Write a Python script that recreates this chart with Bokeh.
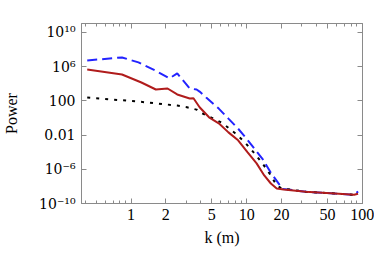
from bokeh.plotting import figure
from bokeh.models import Range1d, FixedTicker, LogAxis, CustomLabelingPolicy
from bokeh.embed import file_html
from bokeh.resources import INLINE

# ---- data (k in m, log10 of power) ----
blue_k = [0.418, 0.836, 1.16, 1.61, 2.15, 2.51, 3.22, 3.69, 3.92, 4.47, 5.74, 6.96, 8.44,
          10.0, 11.7, 13.7, 16.2, 19.0, 20.1, 32.5, 62.7, 85.0, 92.0]
blue_log = [6.73, 7.08, 6.5, 5.57, 4.63, 5.21, 3.45, 3.33, 3.09, 2.39, 1.10, -0.08, -1.25,
            -2.43, -3.6, -4.77, -6.41, -7.7, -8.28, -8.63, -8.86, -8.98, -8.6]

red_k = [0.418, 0.836, 1.23, 1.64, 2.07, 2.51, 3.22, 3.47, 3.92, 4.73, 5.74, 6.96, 8.44,
         10.2, 12.2, 14.2, 16.2, 18.2, 20.9, 32.5, 62.7, 85.0, 92.0]
red_log = [5.67, 5.09, 4.15, 3.33, 3.45, 2.75, 2.28, 2.31, 1.25, 0.08, -0.62, -1.68, -2.61,
           -4.02, -5.31, -6.72, -7.66, -8.24, -8.36, -8.63, -8.86, -8.98, -8.85]

black_k = [0.418, 1.16, 2.51, 3.05, 3.69, 3.92, 5.12, 6.21, 7.96, 9.66, 11.7, 13.7, 16.2,
           18.2, 20.1, 32.5, 62.7, 85.0, 92.0]
black_log = [2.39, 1.92, 1.45, 1.25, 0.98, 0.67, -0.04, -0.62, -1.79, -2.85, -4.14, -5.31,
             -6.72, -7.89, -8.24, -8.63, -8.86, -8.98, -8.9]

x_major = [1, 2, 5, 10, 20, 50, 100]
x_minor = [0.4, 0.5, 0.6, 0.7, 0.8, 0.9, 3, 4, 6, 7, 8, 9, 30, 40, 60, 70, 80, 90]
y_ticks = [1e-10, 1e-6, 1e-2, 1e2, 1e6, 1e10]
y_labels = ["10⁻¹⁰", "10⁻⁶", "0.01", "100", "10⁶", "10¹⁰"]

FONT = "Liberation Serif"
GRAY = "#8a8a8a"

p = figure(width=374, height=256, x_axis_type="log", y_axis_type="log",
           x_range=Range1d(0.373, 100.5), y_range=Range1d(1e-10, 10 ** 11.05),
           output_backend="svg", toolbar_location=None,
           min_border_left=71, min_border_right=12, min_border_top=23, min_border_bottom=53,
           x_axis_label="k (m)", y_axis_label="Power")
p.grid.visible = False
p.outline_line_color = GRAY
p.background_fill_color = "white"
p.border_fill_color = "white"

p.line(blue_k, [10 ** v for v in blue_log], line_color="#2323ff", line_width=2,
       line_dash="10 5")
p.line(black_k, [10 ** v for v in black_log], line_color="black", line_width=2,
       line_dash="3 6")
p.line(red_k, [10 ** v for v in red_log], line_color="#b01c1c", line_width=2)

no_labels = CustomLabelingPolicy(code="""
for (const i of Array.from(indices)) indices.unset(i)
return indices
""")


def style(ax, labels=True):
    ax.axis_line_color = GRAY
    ax.major_tick_line_color = GRAY
    ax.minor_tick_line_color = GRAY
    ax.major_tick_in = 5
    ax.major_tick_out = 0
    ax.minor_tick_in = 3
    ax.minor_tick_out = 0
    ax.major_label_text_font = FONT
    ax.major_label_text_font_size = "16px"
    ax.major_label_text_color = "black"
    ax.axis_label_text_font = FONT
    ax.axis_label_text_font_size = "16px"
    ax.axis_label_text_font_style = "normal"
    ax.axis_label_text_color = "black"
    if not labels:
        ax.major_label_text_font_size = "2px"
        ax.major_label_standoff = 0
        ax.major_label_policy = no_labels


xa = p.xaxis[0]
xa.ticker = FixedTicker(ticks=x_major, minor_ticks=x_minor)
style(xa)
xa.major_label_standoff = 5
xa.axis_label_standoff = 6

ya = p.yaxis[0]
ya.ticker = FixedTicker(ticks=y_ticks, minor_ticks=[])
ya.major_label_overrides = {t: l for t, l in zip(y_ticks, y_labels)}
style(ya)
ya.major_label_text_font = "DejaVu Serif"
ya.major_label_text_font_size = "14px"
ya.major_label_standoff = 6
ya.axis_label_standoff = 16

top = LogAxis(ticker=FixedTicker(ticks=x_major, minor_ticks=x_minor))
style(top, labels=False)
p.add_layout(top, "above")

right = LogAxis(ticker=FixedTicker(ticks=y_ticks, minor_ticks=[]))
style(right, labels=False)
p.add_layout(right, "right")

open("out.html", "w").write(file_html(p, INLINE))
